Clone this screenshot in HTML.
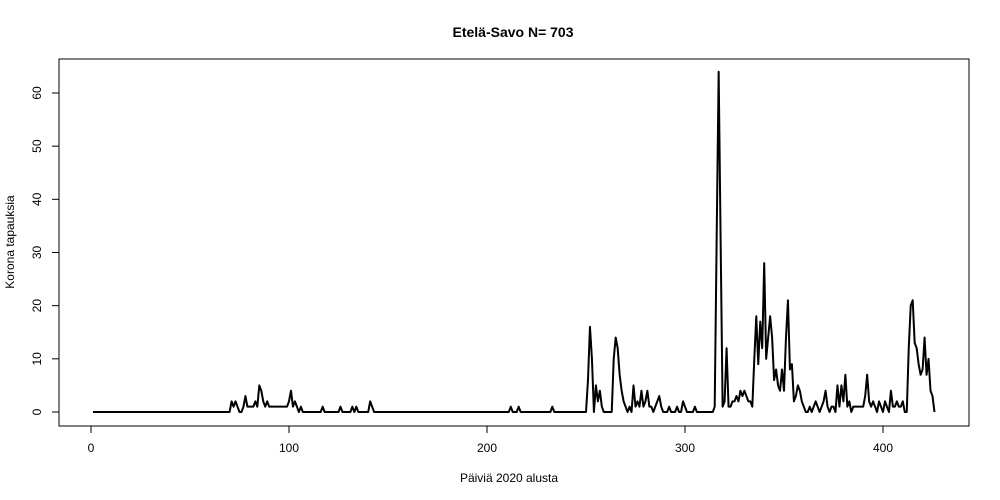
<!DOCTYPE html>
<html><head><meta charset="utf-8"><style>body{margin:0;background:#fff}svg{display:block;font-family:"Liberation Sans",Arial,sans-serif}</style></head>
<body>
<svg id="chart" width="1000" height="500" viewBox="0 0 1000 500"></svg>
<script>
const xTicks=[0,100,200,300,400];
const yTicks=[0,10,20,30,40,50,60];
const cases=[
0,0,0,0,0,0,0,0,0,0, 0,0,0,0,0,0,0,0,0,0, 0,0,0,0,0,0,0,0,0,0, 0,0,0,0,0,0,0,0,0,0,
0,0,0,0,0,0,0,0,0,0, 0,0,0,0,0,0,0,0,0,0, 0,0,0,0,0,0,0,0,0,0,
2,1,2,1,0,0,1,3,1,1, 1,1,2,1,5,4,2,1,2,1, 1,1,1,1,1,1,1,1,1,2, 4,1,2,1,0,1,0,0,0,0,
0,0,0,0,0,0,1,0,0,0, 0,0,0,0,0,1,0,0,0,0, 0,1,0,1,0,0,0,0,0,0, 2,1,0,0,0,0,0,0,0,0,
0,0,0,0,0,0,0,0,0,0, 0,0,0,0,0,0,0,0,0,0, 0,0,0,0,0,0,0,0,0,0, 0,0,0,0,0,0,0,0,0,0,
0,0,0,0,0,0,0,0,0,0, 0,0,0,0,0,0,0,0,0,0,
0,1,0,0,0,1,0,0,0,0, 0,0,0,0,0,0,0,0,0,0, 0,0,1,0,0,0,0,0,0,0, 0,0,0,0,0,0,0,0,0,0,
6,16,10,0,5,2,4,1,0,0, 0,0,0,10,14,12,7,4,2,1, 0,1,0,5,1,2,1,4,1,2, 4,1,1,0,1,2,3,1,0,0,
0,1,0,0,0,1,0,0,2,1, 0,0,0,0,1,0,0,0,0,0, 0,0,0,0,1,33,64,32,1,2, 12,1,1,2,2,3,2,4,3,4,
3,2,2,1,10,18,9,17,12,28, 10,14,18,14,6,8,5,4,8,4, 14,21,8,9,2,3,5,4,2,1, 0,0,1,0,1,2,1,0,1,2,
4,1,0,1,1,0,5,1,5,2, 7,1,2,0,1,1,1,1,1,1, 3,7,2,1,2,1,0,2,1,0, 2,1,0,4,1,1,2,1,1,2,
0,0,12,20,21,13,12,9,7,8, 14,7,10,4,3,0];
const NS="http://www.w3.org/2000/svg";
const svg=document.getElementById('chart');
const X=d=>91+1.98*d, Y=v=>412-5.317*v;
function mk(t,a,txt){const e=document.createElementNS(NS,t);for(const k in a)e.setAttribute(k,a[k]);if(txt!==undefined)e.textContent=txt;svg.appendChild(e);return e;}
let e=mk('rect',{x:59,y:59,width:910,height:367,fill:'none',stroke:'#000'});


e=mk('text',{x:513,y:37,'text-anchor':'middle','font-size':14,'font-weight':'bold'},'Etelä-Savo N= 703');


e=mk('text',{x:509,y:482,'text-anchor':'middle','font-size':12},'Päiviä 2020 alusta');


e=mk('text',{x:14,y:242,'text-anchor':'middle','font-size':12,transform:'rotate(-90 14 242)'},'Korona tapauksia');


mk('line',{x1:X(xTicks[0]),x2:X(xTicks[xTicks.length-1]),y1:426,y2:426,stroke:'#000'});
xTicks.forEach(t=>{mk('line',{x1:X(t),x2:X(t),y1:426,y2:433,stroke:'#000'});
 const l=mk('text',{x:X(t),y:452,'text-anchor':'middle','font-size':12},String(t));
 
 });
mk('line',{x1:59,x2:59,y1:Y(yTicks[0]),y2:Y(yTicks[yTicks.length-1]),stroke:'#000'});
yTicks.forEach(t=>{mk('line',{x1:52,x2:59,y1:Y(t),y2:Y(t),stroke:'#000'});
 const l=mk('text',{x:41,y:Y(t),'text-anchor':'middle','font-size':12,transform:`rotate(-90 41 ${Y(t)})`},String(t));
 
 });
const pts=cases.map((v,i)=>X(i+1).toFixed(2)+','+Y(v).toFixed(2)).join(' ');
e=mk('polyline',{points:pts,fill:'none',stroke:'#000','stroke-width':2,'stroke-linejoin':'round'});


</script>
</body></html>
